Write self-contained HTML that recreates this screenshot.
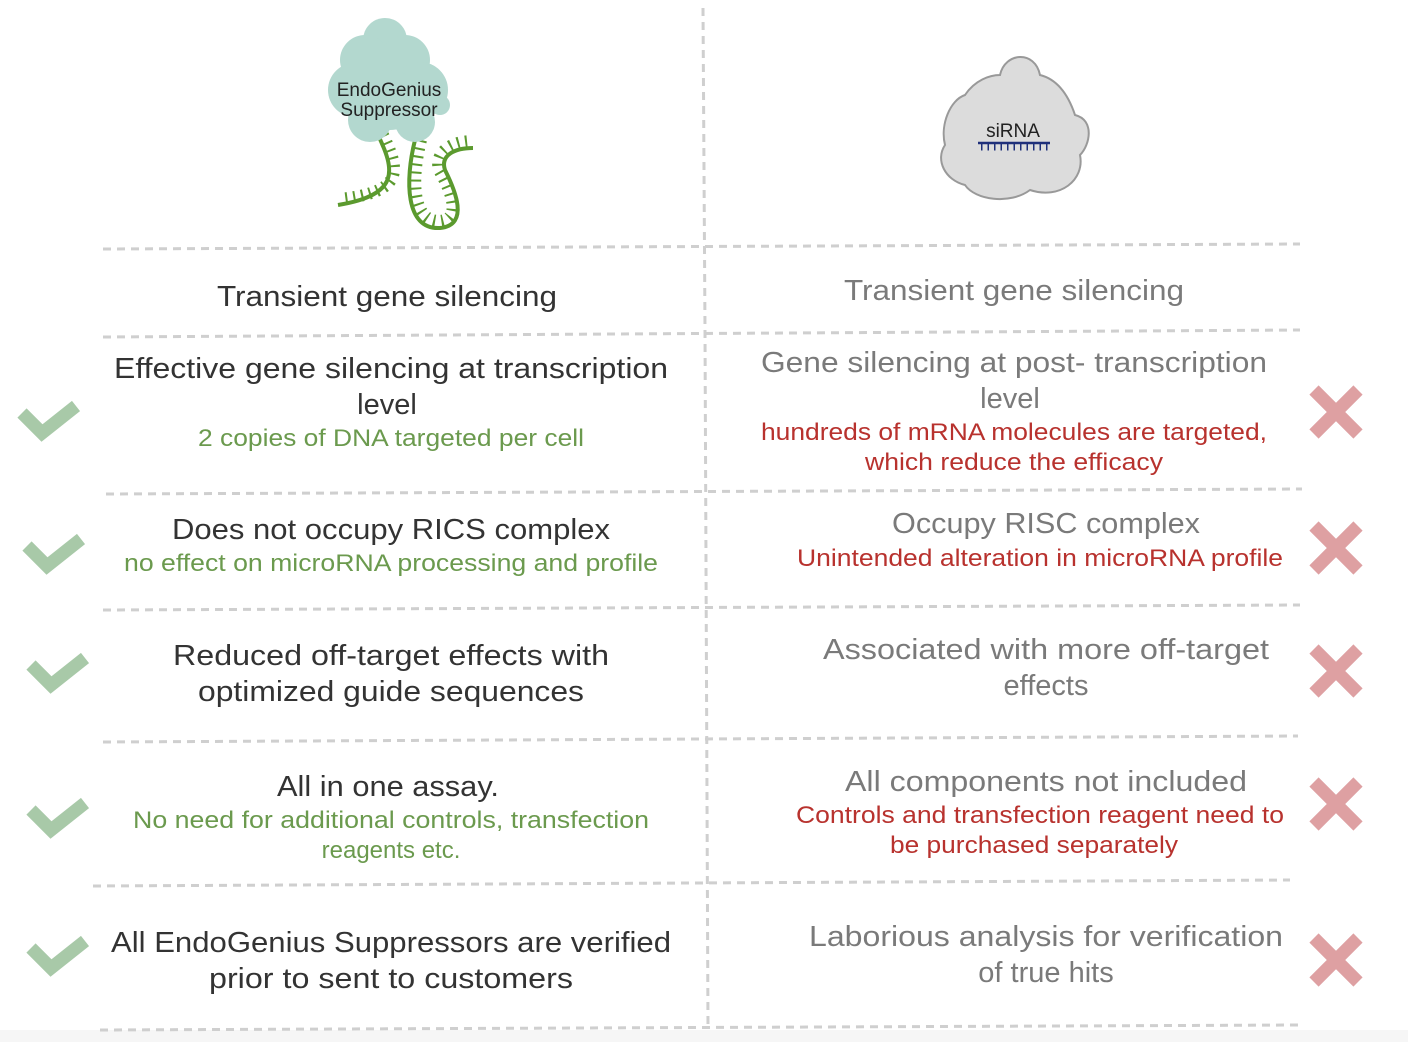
<!DOCTYPE html>
<html><head><meta charset="utf-8"><style>
html,body{margin:0;padding:0;background:#fff;}
svg{display:block;font-family:"Liberation Sans",Roboto,sans-serif;}
</style></head><body>
<svg width="1408" height="1042" viewBox="0 0 1408 1042" xmlns="http://www.w3.org/2000/svg">
<rect width="1408" height="1042" fill="#fff"/>
<rect y="1030" width="1408" height="12" fill="#f6f6f6"/>
<g stroke="#cfcfcf" stroke-width="3" stroke-dasharray="8 6" fill="none">
<line x1="703" y1="8" x2="705" y2="330"/>
<line x1="705" y1="330" x2="708" y2="1030"/>
<line x1="103" y1="249" x2="1300" y2="244"/>
<line x1="103" y1="337" x2="1300" y2="330"/>
<line x1="106" y1="494" x2="1302" y2="489"/>
<line x1="103" y1="610" x2="1300" y2="605"/>
<line x1="103" y1="742" x2="1298" y2="736"/>
<line x1="93" y1="886" x2="1290" y2="880"/>
<line x1="100" y1="1030" x2="1298" y2="1025"/>
</g>
<g fill="none" stroke="#5b9a2e">
<path d="M378 135 C395 170 400 195 338 205" stroke-width="4"/>
<path d="M415 140 C405 180 405 230 440 228 C470 225 455 190 445 170 C440 155 455 148 473 148" stroke-width="4"/>
<path d="M383 135 C400 170 405 192 340 199" stroke-width="12" stroke-dasharray="2 6"/>
<path d="M421 140 C411 180 412 222 440 221 C462 219 451 190 439 170 C434 152 452 141 473 141" stroke-width="12" stroke-dasharray="2 6"/>
</g>
<!-- teal blob -->
<g fill="#b3d8cf">
<circle cx="385" cy="40" r="22"/><circle cx="365" cy="60" r="25"/><circle cx="405" cy="60" r="25"/>
<circle cx="355" cy="90" r="27"/><circle cx="420" cy="90" r="28"/><circle cx="390" cy="100" r="30"/>
<circle cx="370" cy="120" r="22"/><circle cx="415" cy="122" r="20"/><circle cx="440" cy="105" r="10"/>
</g>
<text x="389" y="96" font-size="19" text-anchor="middle" fill="#222">EndoGenius</text>
<text x="389" y="116" font-size="19" text-anchor="middle" fill="#222">Suppressor</text>
<!-- gray blob -->
<g fill="#dcdcdc" stroke="#999" stroke-width="2">
<path d="M1000 75 C1005 52 1035 50 1040 75 C1060 80 1070 100 1075 115 C1095 120 1090 145 1080 155 C1085 180 1060 200 1030 190 C1010 205 975 200 965 185 C945 180 935 160 945 145 C940 125 950 100 965 95 C975 80 990 75 1000 75Z"/>
</g>
<text x="1013" y="137" font-size="19" text-anchor="middle" fill="#222">siRNA</text>
<line x1="978" y1="143" x2="1050" y2="143" stroke="#1e2f7a" stroke-width="2.5"/>
<line x1="981" y1="143" x2="1048" y2="143" stroke="#1e2f7a" stroke-width="7" stroke-dasharray="1.5 5" transform="translate(0,4)"/>
<!-- checks -->
<g fill="none" stroke="#a8c9a8" stroke-width="13" stroke-linejoin="miter">
<path d="M22 413 L42 433 L76 406"/>
<path d="M27 546 L47 566 L81 539"/>
<path d="M31 665 L51 685 L85 658"/>
<path d="M31 810 L51 830 L85 803"/>
<path d="M31 948 L51 968 L85 941"/>
</g>
<g stroke="#dea0a2" stroke-width="13">
<path d="M1314 390 L1358 434 M1358 390 L1314 434"/>
<path d="M1314 526 L1358 570 M1358 526 L1314 570"/>
<path d="M1314 649 L1358 693 M1358 649 L1314 693"/>
<path d="M1314 782 L1358 826 M1358 782 L1314 826"/>
<path d="M1314 938 L1358 982 M1358 938 L1314 982"/>
</g>
<g font-size="29" text-anchor="middle" fill="#333">
<text x="387" y="306" textLength="340" lengthAdjust="spacingAndGlyphs">Transient gene silencing</text>
<text x="391" y="378" textLength="554" lengthAdjust="spacingAndGlyphs">Effective gene silencing at transcription</text>
<text x="387" y="414">level</text>
<text x="391" y="539" textLength="438" lengthAdjust="spacingAndGlyphs">Does not occupy RICS complex</text>
<text x="391" y="665" textLength="436" lengthAdjust="spacingAndGlyphs">Reduced off-target effects with</text>
<text x="391" y="701" textLength="386" lengthAdjust="spacingAndGlyphs">optimized guide sequences</text>
<text x="388" y="796" textLength="222" lengthAdjust="spacingAndGlyphs">All in one assay.</text>
<text x="391" y="952" textLength="560" lengthAdjust="spacingAndGlyphs">All EndoGenius Suppressors are verified</text>
<text x="391" y="988" textLength="364" lengthAdjust="spacingAndGlyphs">prior to sent to customers</text>
</g>
<g font-size="29" text-anchor="middle" fill="#7a7a7a">
<text x="1014" y="300" textLength="340" lengthAdjust="spacingAndGlyphs">Transient gene silencing</text>
<text x="1014" y="372" textLength="506" lengthAdjust="spacingAndGlyphs">Gene silencing at post- transcription</text>
<text x="1010" y="408">level</text>
<text x="1046" y="533" textLength="308" lengthAdjust="spacingAndGlyphs">Occupy RISC complex</text>
<text x="1046" y="659" textLength="446" lengthAdjust="spacingAndGlyphs">Associated with more off-target</text>
<text x="1046" y="695">effects</text>
<text x="1046" y="791" textLength="402" lengthAdjust="spacingAndGlyphs">All components not included</text>
<text x="1046" y="946" textLength="474" lengthAdjust="spacingAndGlyphs">Laborious analysis for verification</text>
<text x="1046" y="982">of true hits</text>
</g>
<g font-size="24" text-anchor="middle" fill="#6b9a4e">
<text x="391" y="446" textLength="386" lengthAdjust="spacingAndGlyphs">2 copies of DNA targeted per cell</text>
<text x="391" y="571" textLength="534" lengthAdjust="spacingAndGlyphs">no effect on microRNA processing and profile</text>
<text x="391" y="828" textLength="516" lengthAdjust="spacingAndGlyphs">No need for additional controls, transfection</text>
<text x="391" y="858">reagents etc.</text>
</g>
<g font-size="24" text-anchor="middle" fill="#b8322e">
<text x="1014" y="440" textLength="506" lengthAdjust="spacingAndGlyphs">hundreds of mRNA molecules are targeted,</text>
<text x="1014" y="470" textLength="298" lengthAdjust="spacingAndGlyphs">which reduce the efficacy</text>
<text x="1040" y="566" textLength="486" lengthAdjust="spacingAndGlyphs">Unintended alteration in microRNA profile</text>
<text x="1040" y="823" textLength="488" lengthAdjust="spacingAndGlyphs">Controls and transfection reagent need to</text>
<text x="1034" y="853" textLength="288" lengthAdjust="spacingAndGlyphs">be purchased separately</text>
</g>
</svg>
</body></html>
